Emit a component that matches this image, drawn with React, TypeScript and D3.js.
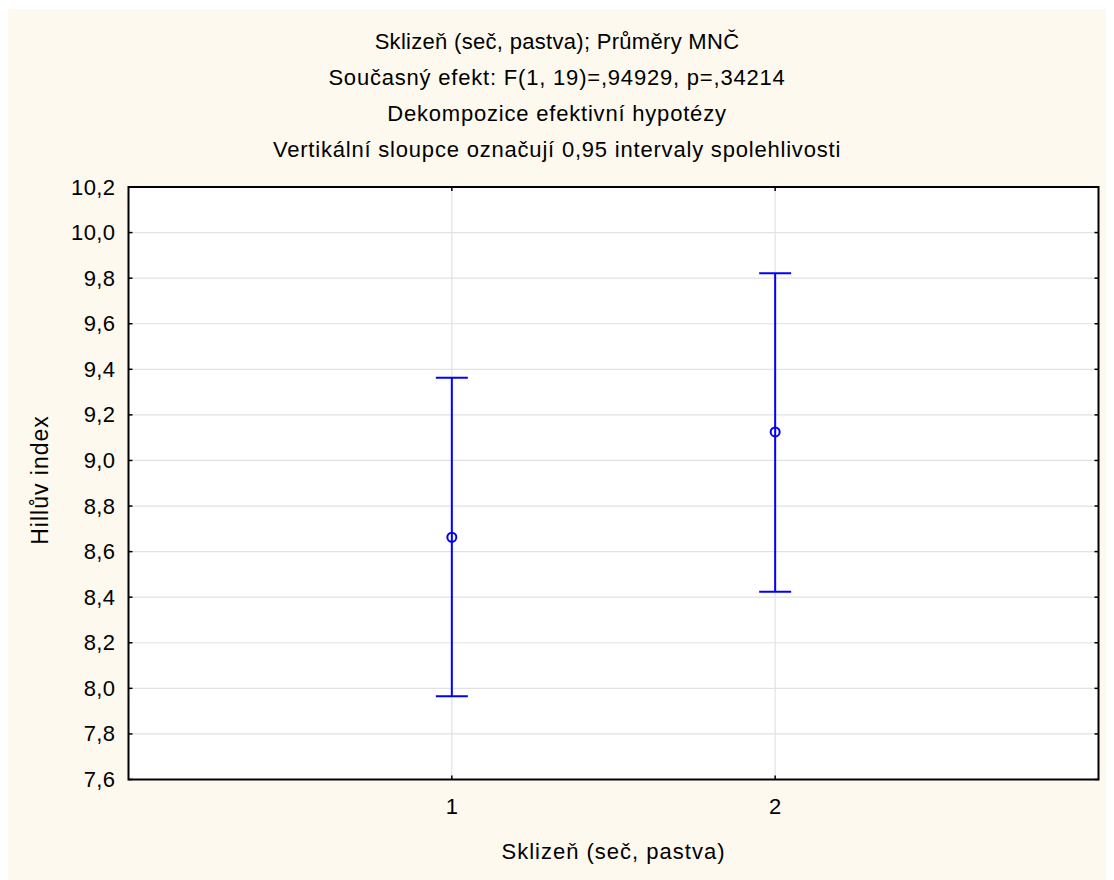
import React from "react";
import * as d3 from "d3";

const titleLines = [
  "Sklizeň (seč, pastva); Průměry MNČ",
  "Současný efekt: F(1, 19)=,94929, p=,34214",
  "Dekompozice efektivní hypotézy",
  "Vertikální sloupce označují 0,95 intervaly spolehlivosti",
];
const categories = [1, 2];
const means = [8.663, 9.125];
const lower = [7.965, 8.424];
const upper = [9.363, 9.822];
const yTicks = [7.6, 7.8, 8.0, 8.2, 8.4, 8.6, 8.8, 9.0, 9.2, 9.4, 9.6, 9.8, 10.0, 10.2];
const xLabel = "Sklizeň (seč, pastva)";
const yLabel = "Hillův index";

const W = 1106;
const H = 872;
const OX = 8, OY = 8; // page offset (body margin)
const plot = { left: 128.5 - OX, top: 187 - OY, right: 1098.5 - OX, bottom: 779.5 - OY };

export default function App() {
  const x = d3.scaleLinear().domain([0, 3]).range([plot.left, plot.right]);
  const y = d3.scaleLinear().domain([7.6, 10.2]).range([plot.bottom, plot.top]);
  const fmt = (v: number) => v.toFixed(1).replace(".", ",");
  const font = "Arial, 'Liberation Sans', sans-serif";
  const fs = 22;
  const blue = "#0000ff";
  return (
    <svg width={W} height={H} style={{ display: "block" }} fontFamily={font}>
      <rect x={-1} y={1} width={W + 1} height={H} fill="#fdf9ee" />
      <rect x={plot.left} y={plot.top} width={plot.right - plot.left} height={plot.bottom - plot.top} fill="#ffffff" />
      {yTicks.map((t) => (
        <line key={"g" + t} x1={plot.left} x2={plot.right} y1={y(t)} y2={y(t)} stroke="#e2e2e2" strokeWidth={1.2} />
      ))}
      {categories.map((c) => (
        <line key={"gx" + c} x1={x(c)} x2={x(c)} y1={plot.top} y2={plot.bottom} stroke="#e2e2e2" strokeWidth={1.2} />
      ))}
      {yTicks.map((t) => (
        <g key={"t" + t}>
          <line x1={plot.left} x2={plot.left + 4} y1={y(t)} y2={y(t)} stroke="#000" strokeWidth={1.5} />
          <line x1={plot.right - 4} x2={plot.right} y1={y(t)} y2={y(t)} stroke="#000" strokeWidth={1.5} />
          <text x={plot.left - 13} y={y(t) + 7.5} textAnchor="end" fontSize={fs} fill="#000" letterSpacing={0.4}>
            {fmt(t)}
          </text>
        </g>
      ))}
      {categories.map((c) => (
        <g key={"xt" + c}>
          <line x1={x(c)} x2={x(c)} y1={plot.bottom - 4} y2={plot.bottom} stroke="#000" strokeWidth={1.5} />
          <line x1={x(c)} x2={x(c)} y1={plot.top} y2={plot.top + 4} stroke="#000" strokeWidth={1.5} />
          <text x={x(c)} y={814 - OY} textAnchor="middle" fontSize={fs} fill="#000">
            {c}
          </text>
        </g>
      ))}
      {categories.map((c, i) => (
        <g key={"eb" + c}>
          <line x1={x(c)} x2={x(c)} y1={y(lower[i])} y2={y(upper[i])} stroke={blue} strokeWidth={2} />
          <line x1={x(c) - 16} x2={x(c) + 16} y1={y(upper[i])} y2={y(upper[i])} stroke={blue} strokeWidth={2} />
          <line x1={x(c) - 16} x2={x(c) + 16} y1={y(lower[i])} y2={y(lower[i])} stroke={blue} strokeWidth={2} />
          <circle cx={x(c)} cy={y(means[i])} r={4.5} fill="none" stroke={blue} strokeWidth={2} />
        </g>
      ))}
      <rect x={plot.left} y={plot.top} width={plot.right - plot.left} height={plot.bottom - plot.top} fill="none" stroke="#000" strokeWidth={2} />
      {titleLines.map((l, i) => (
        <text key={"tl" + i} x={557 - OX} y={49 - OY + i * 36} textAnchor="middle" fontSize={fs} fill="#000" letterSpacing={i === 0 ? 0.3 : 0.8}>
          {l}
        </text>
      ))}
      <text x={(plot.left + plot.right) / 2} y={859 - OY} textAnchor="middle" fontSize={fs} fill="#000" letterSpacing={1}>
        {xLabel}
      </text>
      <text transform={`translate(${48 - OX},${480 - OY}) rotate(-90)`} textAnchor="middle" fontSize={23} fill="#000" letterSpacing={1}>
        {yLabel}
      </text>
    </svg>
  );
}
